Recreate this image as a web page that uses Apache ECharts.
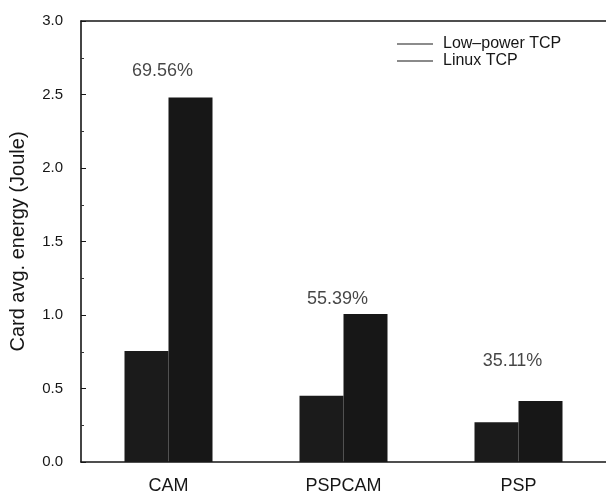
<!DOCTYPE html>
<html>
<head>
<meta charset="utf-8">
<script src="https://cdn.jsdelivr.net/npm/echarts@6/dist/echarts.min.js"></script>
<style>html,body{margin:0;padding:0;background:#fff;}#chart{width:606px;height:496px;}</style>
</head>
<body>
<div id="chart"></div>
<script>
const categories = ['CAM', 'PSPCAM', 'PSP'];
const lowPowerTCP = [0.755, 0.45, 0.27];
const linuxTCP = [2.48, 1.007, 0.415];
const savingLabels = ['69.56%', '55.39%', '35.11%'];
const savingLabelHeights = [2.66, 1.11, 0.69];
const yTicks = { min: 0, max: 3, interval: 0.5 };

const chart = echarts.init(document.getElementById('chart'), null, { renderer: 'canvas' });
const font = 'Liberation Sans, Arial, sans-serif';
const ink = '#161616';
chart.setOption({
  animation: false,
  backgroundColor: '#ffffff',
  grid: { left: 80, top: 21, width: 532, height: 441, show: false },
  legend: {
    orient: 'vertical', left: 392, top: 31, itemGap: 1,
    itemWidth: 36, itemHeight: 1.2, icon: 'rect',
    textStyle: { fontFamily: font, fontSize: 16, color: ink, padding: [0, 0, 0, 5] },
    data: ['Low\u2013power TCP', 'Linux TCP']
  },
  xAxis: [{
    type: 'category', data: categories, boundaryGap: true,
    axisLine: { lineStyle: { color: ink, width: 1.6 } },
    axisTick: { show: false },
    axisLabel: { fontFamily: font, fontSize: 18, color: ink, margin: 15 }
  }, {
    type: 'category', data: categories, position: 'top', boundaryGap: true,
    axisLine: { show: true, lineStyle: { color: ink, width: 1.5 } },
    axisTick: { show: false }, axisLabel: { show: false }
  }],
  yAxis: {
    type: 'value', min: yTicks.min, max: yTicks.max, interval: yTicks.interval,
    name: 'Card avg. energy (Joule)', nameLocation: 'middle', nameGap: 53,
    nameTextStyle: { fontFamily: font, fontSize: 20, color: ink },
    axisLine: { show: true, lineStyle: { color: ink, width: 1.6 } },
    axisTick: { show: true, inside: true, length: 5, lineStyle: { color: ink } },
    minorTick: { show: true, splitNumber: 2, length: 3, lineStyle: { color: '#333' } },
    splitLine: { show: false },
    axisLabel: { fontFamily: font, fontSize: 15, color: ink, margin: 18, formatter: v => v.toFixed(1) }
  },
  series: [
    { name: 'Low\u2013power TCP', type: 'bar', data: lowPowerTCP, barWidth: 44, barGap: '0%',
      itemStyle: { color: '#1b1b1b' } },
    { name: 'Linux TCP', type: 'bar', data: linuxTCP, barWidth: 44,
      itemStyle: { color: '#171717' } },
    { name: 'labels', type: 'scatter', data: savingLabelHeights, symbolSize: 0, silent: true,
      label: { show: true, position: 'inside', offset: [-6, 0], formatter: p => savingLabels[p.dataIndex],
        fontFamily: font, fontSize: 18, color: ink } }
  ]
});
</script>
</body>
</html>
